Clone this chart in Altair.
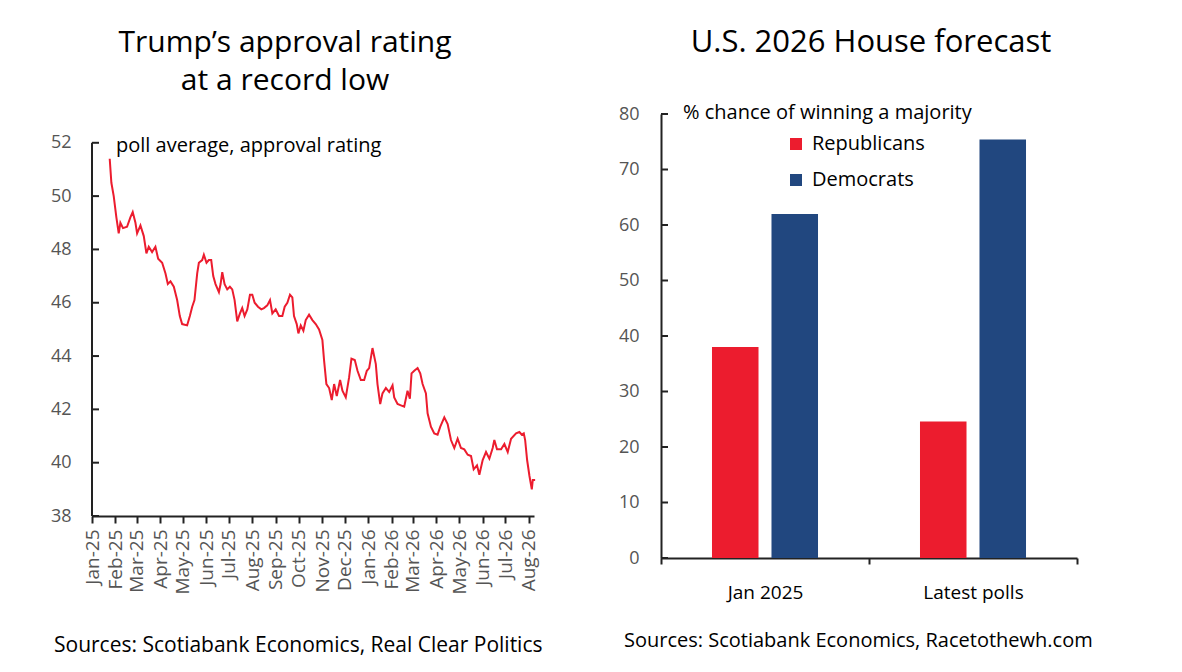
import altair as alt
import pandas as pd

FONT = "Open Sans"
RED = "#EC1C2E"
BLUE = "#21477F"
AX = "#222222"
GRAY = "#555555"

# ---- Left chart data: days since 1 Jan 2025, approval rating (poll average) ----
day_offsets = [23.4, 25.6, 28.7, 32.2, 35.3, 37.5, 41.0, 46.3, 50.7, 53.8,
               57.4, 59.6, 64.0, 68.4, 71.9, 75.0, 79.4, 83.8, 87.4, 92.7,
               97.1, 100.2, 103.7, 108.1, 112.5, 116.0, 119.1, 125.7, 129.3, 132.4,
               135.4, 139.0, 141.2, 145.6, 147.8, 151.3, 154.4, 157.5, 160.2, 163.2,
               167.7, 169.9, 172.1, 175.2, 178.7, 182.2, 185.3, 188.4, 191.9, 195.5,
               198.5, 201.6, 205.2, 208.7, 211.8, 214.9, 219.3, 223.7, 227.2, 231.6,
               235.2, 238.3, 242.7, 247.1, 251.5, 254.6, 258.1, 261.6, 264.7, 266.9,
               270.5, 272.7, 275.8, 279.3, 282.4, 286.8, 291.2, 295.6, 300.0, 304.4,
               306.6, 309.7, 313.3, 316.8, 319.9, 323.4, 327.8, 330.9, 335.3, 339.7,
               342.8, 347.2, 350.8, 355.2, 359.6, 363.1, 366.2, 370.6, 375.0, 377.2,
               380.8, 383.8, 388.3, 392.7, 397.1, 399.3, 403.7, 408.1, 412.5, 416.9,
               420.0, 422.2, 425.8, 430.2, 433.7, 436.8, 441.2, 443.4, 447.8, 452.2,
               456.6, 460.2, 465.5, 469.9, 474.3, 478.7, 483.1, 487.5, 491.9, 496.4,
               500.8, 504.3, 508.7, 511.8, 516.2, 520.6, 525.0, 529.4, 531.6, 535.1,
               540.5, 544.9, 549.3, 553.7, 560.3, 564.7, 567.8, 570.5, 572.3, 574.9,
               578.0, 581.1, 582.4, 585.5]
approval = [51.4, 50.5, 50.0, 49.2, 48.6, 49.0, 48.8, 48.85, 49.2, 49.4,
            49.0, 48.6, 48.9, 48.5, 47.85, 48.1, 47.9, 48.1, 47.65, 47.5,
            47.1, 46.7, 46.8, 46.6, 46.1, 45.5, 45.2, 45.15, 45.5, 45.85,
            46.1, 47.1, 47.5, 47.6, 47.8, 47.5, 47.6, 47.6, 47.0, 46.7,
            46.4, 46.7, 47.15, 46.7, 46.5, 46.6, 46.5, 46.1, 45.3, 45.6,
            45.8, 45.5, 45.75, 46.3, 46.3, 46.0, 45.85, 45.75, 45.8, 45.9,
            46.1, 45.6, 45.75, 45.5, 45.5, 45.85, 46.0, 46.3, 46.2, 45.5,
            45.2, 44.85, 45.15, 44.95, 45.35, 45.55, 45.35, 45.2, 45.0, 44.6,
            43.85, 42.95, 42.8, 42.35, 42.95, 42.5, 43.1, 42.7, 42.45, 43.2,
            43.9, 43.85, 43.45, 43.1, 43.1, 43.45, 43.55, 44.3, 43.7, 42.95,
            42.2, 42.6, 42.8, 42.65, 42.9, 42.45, 42.2, 42.15, 42.1, 42.7,
            42.4, 43.35, 43.45, 43.55, 43.35, 42.95, 42.6, 41.85, 41.35, 41.1,
            41.05, 41.35, 41.7, 41.45, 40.85, 40.55, 40.9, 40.55, 40.5, 40.3,
            40.25, 39.75, 39.9, 39.55, 40.1, 40.4, 40.15, 40.55, 40.85, 40.5,
            40.5, 40.7, 40.4, 40.9, 41.1, 41.15, 41.05, 41.1, 40.85, 40.1,
            39.5, 39.0, 39.35, 39.35]
left_ticks = [38, 40, 42, 44, 46, 48, 50, 52]

# ---- Right chart data ----
periods = ["Jan 2025", "Latest polls"]
parties = ["Republicans", "Democrats"]
republicans = [38, 24.6]
democrats = [62, 75.4]
right_ticks = [0, 10, 20, 30, 40, 50, 60, 70, 80]

dates = pd.Timestamp("2025-01-01") + pd.to_timedelta(day_offsets, unit="D")
line_df = pd.DataFrame({"date": dates, "approval": approval})
bar_df = pd.DataFrame({
    "period": periods * 2,
    "party": [parties[0]] * 2 + [parties[1]] * 2,
    "pct": republicans + democrats,
})

W1, H1 = 442, 402
W2, H2 = 416, 444
SPACING = 127


def label(text, x, y, size, align="left", color="black"):
    return alt.Chart(pd.DataFrame({"t": [text]})).mark_text(
        align=align, baseline="alphabetic", fontSize=size, font=FONT, color=color
    ).encode(x=alt.value(x), y=alt.value(y), text="t:N")


# ---- Left chart ----
yl = alt.Scale(domain=[38, 53.08], nice=False, zero=False)
line = alt.Chart(line_df).mark_line(color=RED, strokeWidth=2, clip=False).encode(
    x=alt.X("date:T",
            scale=alt.Scale(domain=[alt.DateTime(year=2025, month=1, date=1),
                                    alt.DateTime(year=2026, month=8, date=8)], nice=False),
            axis=alt.Axis(title=None, format="%b-%y", labelAngle=270,
                          tickCount=alt.TimeIntervalStep(interval="month", step=1),
                          labelOverlap=False, labelFlush=False, grid=False,
                          tickSize=7, labelPadding=6, labelFontSize=19, labelColor=GRAY)),
    y=alt.Y("approval:Q", scale=yl,
            axis=alt.Axis(title=None, values=left_ticks, domain=False, ticks=False,
                          tickSize=0, grid=False, labelPadding=21, labelFontSize=18,
                          labelColor=GRAY)),
)
l_axis = alt.Chart(pd.DataFrame({"lo": [38], "hi": [52]})).mark_rule(
    color=AX, strokeWidth=2).encode(x=alt.value(0), y=alt.Y("lo:Q", scale=yl), y2="hi:Q")
l_ticks = alt.Chart(pd.DataFrame({"v": left_ticks})).mark_rule(
    color=AX, strokeWidth=2).encode(x=alt.value(0), x2=alt.value(7), y=alt.Y("v:Q", scale=yl))

left = alt.layer(
    l_axis, l_ticks, line,
    label("poll average, approval rating", 24, 38, 20),
    label("Trump’s approval rating", 193, -62, 30, align="center"),
    label("at a record low", 193, -24, 30, align="center"),
    label("Sources: Scotiabank Economics, Real Clear Politics", -38, 538, 21),
).properties(width=W1, height=H1)

# ---- Right chart ----
yr = alt.Scale(domain=[0, 80], nice=False)
bars = alt.Chart(bar_df).mark_bar().encode(
    x=alt.X("period:N", sort=periods, scale=alt.Scale(paddingInner=0, paddingOuter=0),
            axis=alt.Axis(title=None, labelAngle=0, tickBand="extent", tickSize=6,
                          labelPadding=19, labelFontSize=19, labelColor="black", grid=False)),
    xOffset=alt.XOffset("party:N", sort=parties,
                        scale=alt.Scale(paddingInner=0.218, paddingOuter=0.857)),
    y=alt.Y("pct:Q", scale=yr,
            axis=alt.Axis(title=None, values=right_ticks, ticks=False, tickSize=0,
                          grid=False, labelPadding=22, labelFontSize=18, labelColor=GRAY)),
    color=alt.Color("party:N", scale=alt.Scale(domain=parties, range=[RED, BLUE]),
                    legend=alt.Legend(orient="none", legendX=W1 + SPACING + 125, legendY=20,
                                      title=None, symbolType="square", symbolSize=144,
                                      symbolStrokeWidth=0, labelFontSize=20,
                                      labelFont=FONT, labelColor="black", rowPadding=16,
                                      labelOffset=6, padding=0)),
)
r_ticks = alt.Chart(pd.DataFrame({"v": right_ticks})).mark_rule(
    color=AX, strokeWidth=2).encode(x=alt.value(0), x2=alt.value(7), y=alt.Y("v:Q", scale=yr))

right = alt.layer(
    bars, r_ticks,
    label("% chance of winning a majority", 22, 5, 20),
    label("U.S. 2026 House forecast", 210, -62, 31, align="center"),
    label("Sources: Scotiabank Economics, Racetothewh.com", -37, 533, 20),
).properties(width=W2, height=H2)

chart = alt.hconcat(left, right, spacing=SPACING, bounds="flush").properties(
    padding={"left": 42, "top": 19, "right": 10, "bottom": 5}
).configure_view(stroke=None).configure_axis(
    labelFont=FONT, domainColor=AX, domainWidth=2, tickColor=AX, tickWidth=2
)

chart.save("out.html", embed_options={"renderer": "svg", "actions": False})
